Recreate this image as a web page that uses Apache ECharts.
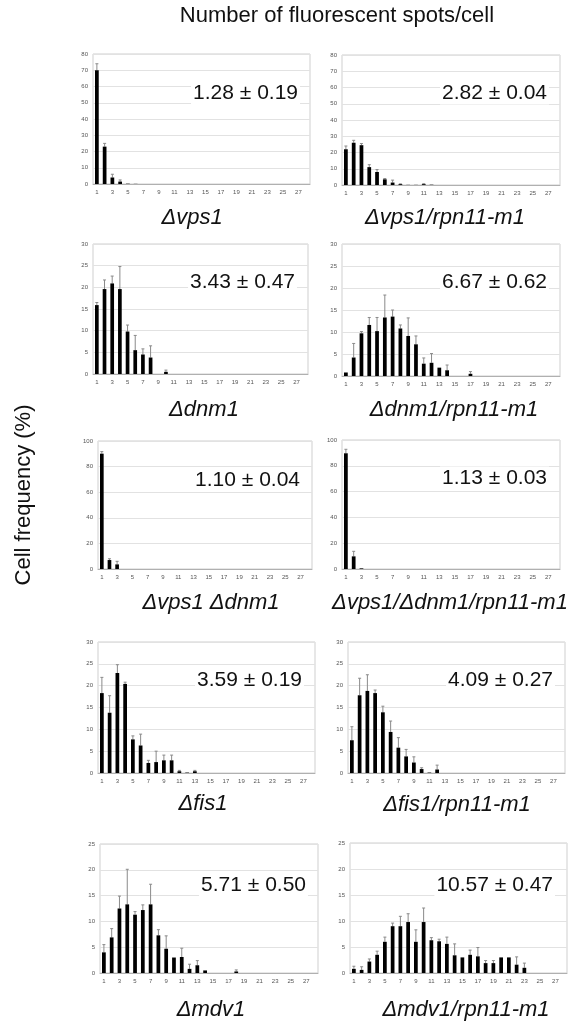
<!DOCTYPE html>
<html>
<head>
<meta charset="utf-8">
<script src="https://cdn.jsdelivr.net/npm/echarts@6/dist/echarts.min.js"></script>
<style>html,body{margin:0;padding:0;background:#fff;}#c{width:577px;height:1024px;}</style>
</head>
<body>
<div id="c"></div>
<script>
// x categories (number of spots per cell)
const categories = ['1','2','3','4','5','6','7','8','9','10','11','12','13','14','15','16','17','18','19','20','21','22','23','24','25','26','27','28'];

// Cell frequency (%) means and error-bar tops per genotype
const vps1 = [70,23,4,1.5,0.2,0.1];
const vps1Err = [74,25,6,2.5,null,null];
const vps1Rpn = [22,26,24.5,11,8,3.5,1.5,0.5,0.1,0.1,0.5,0.2];
const vps1RpnErr = [24,27.5,25.5,12.5,9.5,4,3,0.7,null,null,0.8,null];
const dnm1 = [15.9,19.6,20.9,19.6,9.8,5.5,4.5,3.8,0,0.5];
const dnm1Err = [16.5,21.7,22.6,24.8,11.3,8.9,5.8,6.5,null,0.9];
const dnm1Rpn = [0.8,4.2,9.7,11.6,10.2,13.3,13.5,10.8,9.1,7.2,2.8,3.0,1.9,1.3,0,0,0.5];
const dnm1RpnErr = [null,7.4,10.1,13.3,13.3,18.4,15.0,11.6,13.2,9.1,4.1,5.1,null,2.5,null,null,1.0];
const vps1Dnm1 = [90.1,7,3.6];
const vps1Dnm1Err = [91.7,8,6];
const vps1Dnm1Rpn = [89.7,9.8,0.5];
const vps1Dnm1RpnErr = [92.8,13.7,null];
const fis1 = [18.3,13.8,22.9,20.4,7.7,6.3,2.3,2.5,2.9,2.9,0.4,0.1,0.4];
const fis1Err = [21.9,17.7,24.8,20.8,8.5,8.9,2.9,5.0,4.1,4.1,0.6,null,0.6];
const fis1Rpn = [7.5,17.8,18.8,18.3,13.9,9.4,5.8,3.8,2.4,0.9,0.1,0.8];
const fis1RpnErr = [10.6,21.7,22.5,19.0,15.3,11.9,8.1,5.4,3.7,1.2,null,1.8];
const mdv1 = [4.0,6.9,12.5,13.3,11.3,12.2,13.3,7.3,4.7,3.0,3.1,0.8,1.5,0.5,0,0,0,0.3];
const mdv1Err = [5.5,8.6,14.9,20.1,11.9,13.2,17.2,8.4,7.2,null,4.8,1.7,2.4,null,null,null,null,0.6];
const mdv1Rpn = [0.8,0.6,2.2,3.5,6.0,9.0,9.0,9.8,6.0,9.8,6.3,6.1,5.6,3.4,3.0,3.5,3.2,1.9,1.9,3.0,3.0,1.6,1.0];
const mdv1RpnErr = [1.3,1.2,2.7,4.2,6.9,9.6,10.9,11.4,8.3,12.5,6.8,6.5,6.9,5.6,null,4.4,4.9,2.4,2.4,null,null,3.1,1.9];

// Panel texts
const genotypes = ['\u0394vps1','\u0394vps1/rpn11-m1','\u0394dnm1','\u0394dnm1/rpn11-m1','\u0394vps1 \u0394dnm1','\u0394vps1/\u0394dnm1/rpn11-m1','\u0394fis1','\u0394fis1/rpn11-m1','\u0394mdv1','\u0394mdv1/rpn11-m1'];
const stats = ['1.28 \u00b1 0.19','2.82 \u00b1 0.04','3.43 \u00b1 0.47','6.67 \u00b1 0.62','1.10 \u00b1 0.04','1.13 \u00b1 0.03','3.59 \u00b1 0.19','4.09 \u00b1 0.27','5.71 \u00b1 0.50','10.57 \u00b1 0.47'];
const yMax = [80,80,30,30,100,100,30,30,25,25];
const yStep = [10,10,5,5,20,20,5,5,5,5];

const means = [vps1,vps1Rpn,dnm1,dnm1Rpn,vps1Dnm1,vps1Dnm1Rpn,fis1,fis1Rpn,mdv1,mdv1Rpn];
const tops = [vps1Err,vps1RpnErr,dnm1Err,dnm1RpnErr,vps1Dnm1Err,vps1Dnm1RpnErr,fis1Err,fis1RpnErr,mdv1Err,mdv1RpnErr];

// Layout (pixels)
const grids = [
  {left:93, top:54, width:217, height:130},
  {left:342,top:55, width:218, height:130},
  {left:93, top:244,width:215, height:130},
  {left:342,top:244,width:218, height:132},
  {left:98, top:441,width:214, height:128},
  {left:342,top:440,width:218, height:129},
  {left:98, top:642,width:217, height:131},
  {left:348,top:642,width:217, height:131},
  {left:100,top:844,width:218, height:129},
  {left:350,top:843,width:217, height:130}
];
const statPos = [[300,93],[549,93],[297,282],[549,282],[302,480],[549,478],[304,680],[555,680],[308,885],[555,885]];
const labelPos = [[192,218],[445,218],[204,410],[454,410],[211,603],[450,603],[203,804],[457,805],[211,1010],[466,1010]];

const FONT = '"Liberation Sans", Arial, sans-serif';

const option = {
  animation:false,
  backgroundColor:'#fff',
  grid: grids.map(g => Object.assign({show:true, borderColor:'#cfcfcf', borderWidth:1, backgroundColor:'#fff'}, g)),
  xAxis: grids.map((g,i) => ({
    type:'category', gridIndex:i, data:categories,
    axisLine:{show:true, lineStyle:{color:'#b0b0b0', width:1}},
    axisTick:{show:false},
    axisLabel:{interval:1, fontSize:6, color:'#555', margin:5, fontFamily:FONT},
    splitLine:{show:false}
  })),
  yAxis: grids.map((g,i) => ({
    type:'value', gridIndex:i, min:0, max:yMax[i], interval:yStep[i],
    axisLine:{show:false}, axisTick:{show:false},
    axisLabel:{fontSize:6, color:'#555', margin:5, fontFamily:FONT},
    splitLine:{show:true, lineStyle:{color:'#e2e2e2', width:1}}
  })),
  series: [],
  graphic: []
};

means.forEach((m,i) => {
  option.series.push({
    type:'bar', xAxisIndex:i, yAxisIndex:i, data:m,
    barWidth:'48%', itemStyle:{color:'#000'}, silent:true
  });
  const ed = [];
  tops[i].forEach((t,k) => { if (t !== null && t !== undefined) ed.push([k, m[k], t]); });
  option.series.push({
    type:'custom', xAxisIndex:i, yAxisIndex:i, data:ed, silent:true,
    encode:{x:0, y:[1,2]},
    renderItem:function(params, api){
      const x = api.value(0), y = api.value(1), e = api.value(2);
      const p0 = api.coord([x, y]);
      const p1 = api.coord([x, e]);
      const hw = 1.5;
      return {type:'group', children:[
        {type:'line', shape:{x1:p0[0], y1:p0[1], x2:p1[0], y2:p1[1]}, style:{stroke:'#8a8a8a', lineWidth:1}},
        {type:'line', shape:{x1:p1[0]-hw, y1:p1[1], x2:p1[0]+hw, y2:p1[1]}, style:{stroke:'#8a8a8a', lineWidth:1}}
      ]};
    }
  });
  option.graphic.push({
    type:'text', x:statPos[i][0], y:statPos[i][1], silent:true, z:100,
    style:{text:stats[i], font:'21px ' + FONT, fill:'#111', textAlign:'right', textVerticalAlign:'middle', backgroundColor:'#fff', padding:[1,2,1,2]}
  });
  option.graphic.push({
    type:'text', x:labelPos[i][0], y:labelPos[i][1], silent:true, z:100,
    style:{text:genotypes[i], font:'italic 22px ' + FONT, fill:'#111', textAlign:'center', textVerticalAlign:'middle'}
  });
});

option.graphic.push({
  type:'text', x:337, y:16, silent:true, z:100,
  style:{text:'Number of fluorescent spots/cell', font:'22px ' + FONT, fill:'#111', textAlign:'center', textVerticalAlign:'middle'}
});
option.graphic.push({
  type:'text', x:24, y:495, rotation:Math.PI/2, silent:true, z:100,
  style:{text:'Cell frequency (%)', font:'22px ' + FONT, fill:'#111', textAlign:'center', textVerticalAlign:'middle'}
});

const chart = echarts.init(document.getElementById('c'), null, {renderer:'canvas'});
chart.setOption(option);
</script>
</body>
</html>
